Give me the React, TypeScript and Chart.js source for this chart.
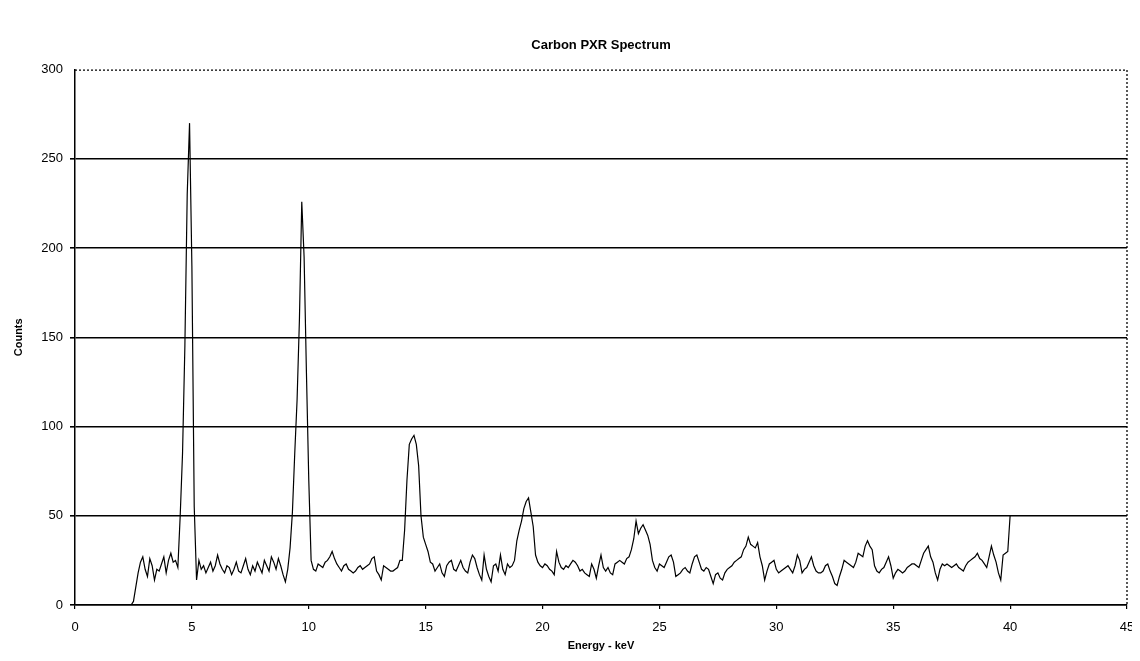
import React, { useEffect, useRef } from "react";
import { Chart, registerables } from "chart.js";

Chart.register(...registerables);

const chartTitle = "Carbon PXR Spectrum";
const xAxisTitle = "Energy - keV";
const yAxisTitle = "Counts";

// energy grid of the spectrum (keV): first channel and channel width
const energyStart = 1.8;
const energyStep = 0.1;

// counts, one value per 0.1 keV channel, starting at 1.8 keV
const countsLow = [
  0, 0, 0, 0, 0, 0, 0, // 1.8 - 2.4
  2, 10, 18, 24, 27, 20, 16, 26, 22, 14, // 2.5 - 3.4
  20, 19, 23, 27, 18, 25, 29, 24, 25, 21, // 3.5 - 4.4
  50, 85, 145, 230, 270, 190, 55, 14, 25, 20, // 4.5 - 5.4
  22, 18, 21, 24, 19, 22, 28, 23, 20, 18, // 5.5 - 6.4
  22, 21, 17, 20, 24, 19, 18, 22, 26, 20, // 6.5 - 7.4
  17, 22, 19, 24, 21, 18, 25, 22, 19, 27, // 7.5 - 8.4
  24, 20, 26, 22, 17, 13, 20, 32, 52, 85, // 8.5 - 9.4
  115, 160, 226, 195, 130, 70, 25, 20, 19, 23, // 9.5 - 10.4
  22, 21, 24, 25, 27, 30, 26, 23, 21, 19, // 10.5 - 11.4
  22, 23, 20, 19, 18, 19, 21, 22, 20, 21, // 11.5 - 12.4
  22, 23, 26, 27, 19, 17, 14, 22, 21, 20, // 12.5 - 13.4
  19, 19, 20, 21, 25, 25, 42, 70, 90, 93, // 13.5 - 14.4
  95, 90, 78, 50, 38, 34, 30, 24, 23, 19, // 14.5 - 15.4
];

const countsMid = [
  21, 23, 18, 16, 22, 24, 25, 20, 19, 22, // 15.5 - 16.4
  25, 21, 19, 18, 24, 28, 26, 21, 17, 14, // 16.5 - 17.4
  28, 20, 16, 13, 22, 23, 19, 28, 20, 17, // 17.5 - 18.4
  23, 21, 22, 25, 36, 42, 47, 54, 58, 60, // 18.5 - 19.4
  52, 44, 28, 24, 22, 21, 23, 22, 20, 19, // 19.5 - 20.4
  17, 30, 24, 21, 20, 22, 21, 23, 25, 24, // 20.5 - 21.4
  22, 19, 20, 18, 17, 16, 23, 20, 15, 22, // 21.5 - 22.4
  28, 21, 19, 21, 18, 17, 23, 24, 25, 24, // 22.5 - 23.4
  23, 26, 27, 31, 37, 47, 40, 43, 45, 42, // 23.5 - 24.4
  39, 34, 25, 21, 19, 23, 22, 21, 24, 27, // 24.5 - 25.4
  28, 24, 16, 17, 18, 20, 21, 19, 18, 23, // 25.5 - 26.4
  27, 28, 24, 20, 19, 21, 20, 16, 12, 17, // 26.5 - 27.4
];

const countsHigh = [
  18, 15, 14, 18, 20, 21, 22, 24, 25, 26, // 27.5 - 28.4
  27, 31, 33, 38, 34, 33, 32, 35, 27, 22, // 28.5 - 29.4
  14, 19, 23, 24, 25, 20, 18, 19, 20, 21, // 29.5 - 30.4
  22, 20, 18, 22, 28, 25, 18, 20, 21, 24, // 30.5 - 31.4
  27, 22, 19, 18, 18, 19, 22, 23, 19, 16, // 31.5 - 32.4
  12, 11, 16, 20, 25, 24, 23, 22, 21, 24, // 32.5 - 33.4
  29, 28, 27, 33, 36, 33, 31, 22, 19, 18, // 33.5 - 34.4
  20, 21, 24, 27, 22, 15, 18, 20, 19, 18, // 34.5 - 35.4
  19, 21, 22, 23, 23, 22, 21, 25, 29, 31, // 35.5 - 36.4
  33, 27, 24, 18, 14, 20, 23, 22, 23, 22, // 36.5 - 37.4
  21, 22, 23, 21, 20, 19, 22, 24, 25, 26, // 37.5 - 38.4
  27, 29, 26, 25, 23, 21, 27, 33, 28, 24, // 38.5 - 39.4
  18, 14, 28, 29, 30, 50, // 39.5 - 40.0
];

const xTickMin = 0;
const xTickMax = 45;
const xTickStep = 5;
const yTickMin = 0;
const yTickMax = 300;
const yTickStep = 50;

const fontFamily = "Arial, 'Liberation Sans', sans-serif";

const frameBorders = {
  id: "frameBorders",
  afterDraw(chart: any) {
    const { ctx, chartArea } = chart;
    ctx.save();
    ctx.strokeStyle = "#000";
    ctx.lineWidth = 1.3;
    ctx.setLineDash([2, 2]);
    ctx.beginPath();
    ctx.moveTo(chartArea.left, chartArea.top + 0.5);
    ctx.lineTo(chartArea.right, chartArea.top + 0.5);
    ctx.lineTo(chartArea.right, chartArea.bottom);
    ctx.stroke();
    ctx.restore();
  },
};

export default function App() {
  const ref = useRef<HTMLCanvasElement | null>(null);

  useEffect(() => {
    const counts = [...countsLow, ...countsMid, ...countsHigh];
    const points = counts.map((c, i) => ({
      x: Math.round((energyStart + i * energyStep) * 10) / 10,
      y: c,
    }));
    const chart = new Chart(ref.current!, {
      type: "line",
      data: {
        datasets: [
          {
            data: points,
            borderColor: "#000",
            borderWidth: 1.2,
            pointRadius: 0,
            tension: 0,
            fill: false,
          },
        ],
      },
      options: {
        animation: false,
        responsive: false,
        maintainAspectRatio: false,
        layout: { padding: { left: 0, right: 13, top: 0, bottom: 0 } },
        plugins: {
          legend: { display: false },
          tooltip: { enabled: false },
          title: {
            display: true,
            fullSize: false,
            text: chartTitle,
            color: "#000",
            font: { family: fontFamily, size: 13, weight: "bold" },
            padding: { top: 30, bottom: 16 },
          },
        },
        scales: {
          x: {
            type: "linear",
            min: xTickMin,
            max: xTickMax,
            afterFit: (s: any) => {
              s.height = 48;
              s.paddingRight = 0;
              s.paddingLeft = 0;
            },
            ticks: {
              stepSize: xTickStep,
              color: "#000",
              padding: 11,
              font: { family: fontFamily, size: 13 },
              maxRotation: 0,
            },
            grid: {
              drawOnChartArea: false,
              drawTicks: true,
              tickLength: 4,
              color: "#000",
              lineWidth: 1.2,
            },
            border: { display: true, color: "#000", width: 1.5 },
            title: {
              display: true,
              text: xAxisTitle,
              color: "#000",
              font: { family: fontFamily, size: 11, weight: "bold" },
              padding: { top: 0, bottom: 0 },
            },
          },
          y: {
            min: yTickMin,
            max: yTickMax,
            afterFit: (s: any) => {
              s.width = 67;
            },
            ticks: {
              stepSize: yTickStep,
              color: "#000",
              padding: 7,
              font: { family: fontFamily, size: 13 },
            },
            grid: {
              drawTicks: true,
              tickLength: 5,
              color: (c: any) => (c.tick && c.tick.value === yTickMax ? "rgba(0,0,0,0)" : "#000"),
              lineWidth: 1.6,
            },
            border: { display: true, color: "#000", width: 1.5 },
            title: {
              display: true,
              text: yAxisTitle,
              color: "#000",
              font: { family: fontFamily, size: 11, weight: "bold" },
              padding: { top: 4, bottom: 0 },
            },
          },
        },
      },
      plugins: [frameBorders],
    });
    return () => chart.destroy();
  }, []);

  return (
    <div style={{ width: 1132, height: 645 }}>
      <canvas ref={ref} width={1132} height={645} style={{ display: "block" }} />
    </div>
  );
}
